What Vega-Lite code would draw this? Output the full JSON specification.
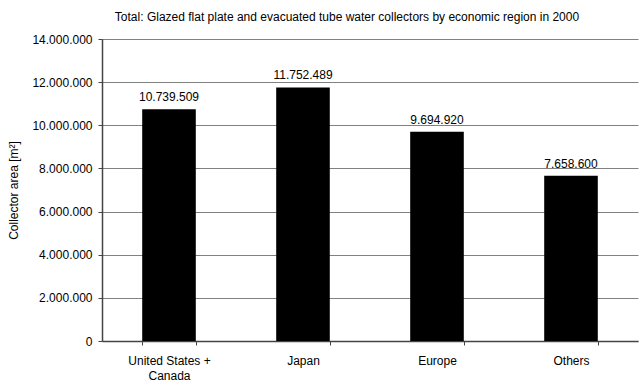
{
  "$schema": "https://vega.github.io/schema/vega-lite/v6.json",
  "width": 536,
  "height": 302,
  "autosize": {"type": "none"},
  "padding": {"left": 102, "top": 39, "right": 1, "bottom": 39},
  "background": "white",
  "config": {
    "locale": {"number": {"decimal": ",", "thousands": ".", "grouping": [3], "currency": ["", ""]}},
    "font": "Liberation Sans",
    "view": {"stroke": null}
  },
  "title": {
    "text": "Total: Glazed flat plate and evacuated tube water collectors by economic region in 2000",
    "fontSize": 12,
    "fontWeight": "normal",
    "color": "black",
    "anchor": "middle",
    "frame": "group",
    "dx": -23,
    "offset": 9
  },
  "data": {
    "values": [
      {"region": "United States + Canada", "area": 10739509},
      {"region": "Japan", "area": 11752489},
      {"region": "Europe", "area": 9694920},
      {"region": "Others", "area": 7658600}
    ]
  },
  "encoding": {
    "x": {
      "field": "region",
      "type": "nominal",
      "sort": null,
      "scale": {"paddingInner": 0.6, "paddingOuter": 0.3},
      "axis": {
        "title": null,
        "labelAngle": 0,
        "labelFontSize": 12,
        "labelColor": "black",
        "labelExpr": "datum.label == 'United States + Canada' ? ['United States +', 'Canada'] : datum.label",
        "labelLineHeight": 15,
        "labelPadding": 10,
        "tickBand": "extent",
        "tickSize": 4,
        "tickColor": "#444",
        "domainColor": "#444",
        "domainWidth": 1.5,
        "grid": false
      }
    },
    "y": {
      "field": "area",
      "type": "quantitative",
      "scale": {"domain": [0, 14000000]},
      "axis": {
        "title": "Collector area [m²]",
        "titleFontSize": 12,
        "titleFontWeight": "normal",
        "titleColor": "black",
        "titleX": -82,
        "values": [0, 2000000, 4000000, 6000000, 8000000, 10000000, 12000000, 14000000],
        "format": ",d",
        "labelFontSize": 12,
        "labelColor": "black",
        "labelPadding": 6,
        "tickSize": 4,
        "tickColor": "#444",
        "domainColor": "#444",
        "domainWidth": 1.5,
        "gridColor": "#808080",
        "gridOpacity": 1
      }
    }
  },
  "layer": [
    {"mark": {"type": "bar", "color": "black"}},
    {
      "mark": {"type": "text", "baseline": "bottom", "dy": -5, "fontSize": 12, "color": "black"},
      "encoding": {"text": {"field": "area", "type": "quantitative", "format": ",d"}}
    }
  ]
}
